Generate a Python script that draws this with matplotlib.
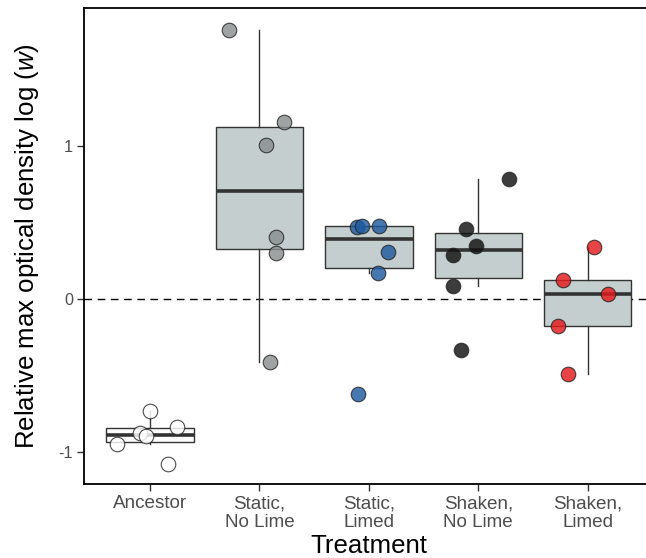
import matplotlib
matplotlib.use("Agg")
import matplotlib.pyplot as plt
import numpy as np

plt.rcParams['font.family'] = ['Liberation Sans', 'DejaVu Sans']
plt.rcParams['mathtext.fontset'] = 'custom'
plt.rcParams['mathtext.rm'] = 'Liberation Sans'
plt.rcParams['mathtext.it'] = 'Liberation Sans:italic'

# ---- data ----
categories = ["Ancestor", "Static,\nNo Lime", "Static,\nLimed", "Shaken,\nNo Lime", "Shaken,\nLimed"]
ancestor = [-0.953, -0.881, -0.898, -0.734, -1.080, -0.837]
static_nolime = [1.766, 1.163, 1.010, 0.405, 0.300, -0.415]
static_limed = [0.475, 0.478, 0.477, 0.310, 0.172, -0.623]
shaken_nolime = [0.785, 0.457, 0.348, 0.289, 0.087, -0.332]
shaken_limed = [0.339, 0.125, 0.031, -0.177, -0.494]
# horizontal jitter of each point (category units), as seen in the picture
jit_ancestor = [-0.30, -0.09, -0.04, 0.0, 0.165, 0.25]
jit_static_nolime = [-0.275, 0.225, 0.058, 0.155, 0.155, 0.094]
jit_static_limed = [-0.11, -0.065, 0.09, 0.178, 0.081, -0.096]
jit_shaken_nolime = [0.283, -0.115, -0.024, -0.231, -0.231, -0.158]
jit_shaken_limed = [0.058, -0.228, 0.183, -0.269, -0.183]

series = [ancestor, static_nolime, static_limed, shaken_nolime, shaken_limed]
jitters = [jit_ancestor, jit_static_nolime, jit_static_limed, jit_shaken_nolime, jit_shaken_limed]
point_colors = ["#FFFFFF", "#8A8F8F", "#1F5A9E", "#111111", "#E41A1C"]
box_fills = ["#FFFFFF", "#C4CECE", "#C4CECE", "#C4CECE", "#C4CECE"]

W, H = 646, 558
fig = plt.figure(figsize=(W / 100, H / 100), dpi=100)
ax = fig.add_axes([84 / W, 1 - 484 / H, (653.7 - 84) / W, (484 - 8) / H])

positions = np.arange(1, len(categories) + 1)
bp = ax.boxplot(series, positions=positions, widths=0.8, patch_artist=True,
                showcaps=False, showfliers=False, whis=1.5, zorder=2,
                boxprops=dict(edgecolor="#333333", linewidth=1.0),
                whiskerprops=dict(color="#333333", linewidth=1.0),
                medianprops=dict(color="#333333", linewidth=2.6, solid_capstyle='butt'))
for patch, fc in zip(bp['boxes'], box_fills):
    patch.set_facecolor(fc)

ax.axhline(0, color="black", linestyle=(0, (5.5, 4)), linewidth=1.0, zorder=1)

for pos, vals, jit, col in zip(positions, series, jitters, point_colors):
    ax.scatter(pos + np.array(jit), vals, s=110, facecolor=col, edgecolor="#222222",
               linewidth=0.8, alpha=0.82, zorder=3)

ax.set_xlim(0.397, 5.603)
ax.set_ylim(-1.213, 1.908)
ax.set_yticks([-1, 0, 1])
ax.set_yticklabels(["-1", "0", "1"])
ax.set_xticks(positions)
ax.set_xticklabels(categories, linespacing=1.15)

ax.tick_params(axis='y', labelsize=11.7, colors="#333333", labelcolor="#4D4D4D", length=5, width=1.0, pad=3)
ax.tick_params(axis='x', labelsize=13.6, colors="#333333", labelcolor="#4D4D4D", length=5, width=1.0, pad=3)
for sp in ax.spines.values():
    sp.set_color("black")
    sp.set_linewidth(1.3)

ax.set_xlabel("Treatment", fontsize=18.6, labelpad=2)
ax.set_ylabel(r"Relative max optical density log $(\mathit{w})$", fontsize=18.6)
ax.yaxis.set_label_coords(-0.076, 0.5)

fig.savefig("out.png", dpi=100)
